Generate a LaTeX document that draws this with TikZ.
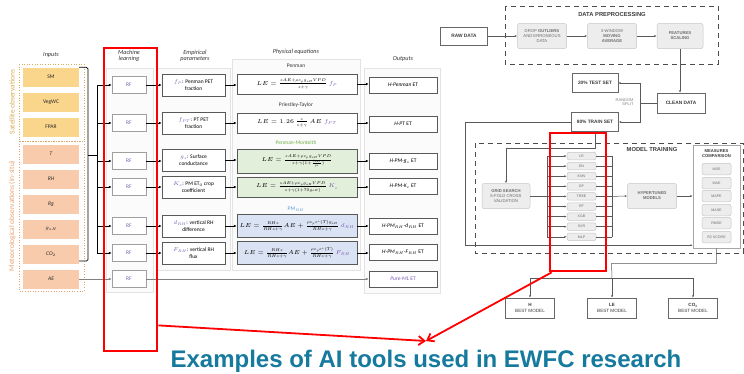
\RequirePackage{fix-cm}
\documentclass[tikz,border=0pt]{standalone}
\usepackage{amsmath}
\usepackage{fontspec}
\setmainfont{Carlito}
\newfontfamily\arialfont{Liberation Sans}
\usetikzlibrary{arrows.meta,calc,positioning}

\definecolor{satfill}{RGB}{250,214,140}
\definecolor{metfill}{RGB}{248,203,173}
\definecolor{sattext}{RGB}{214,172,84}
\definecolor{mettext}{RGB}{228,162,112}
\definecolor{mlpurple}{RGB}{122,92,182}
\definecolor{pmgreen}{RGB}{112,173,71}
\definecolor{pmfill}{RGB}{226,239,218}
\definecolor{rhblue}{RGB}{91,155,213}
\definecolor{rhfill}{RGB}{218,227,243}
\definecolor{boxline}{RGB}{89,89,89}
\definecolor{flowgray}{RGB}{60,60,60}
\definecolor{captionblue}{RGB}{22,122,158}

\begin{document}
\begin{tikzpicture}[x=1pt,y=-1pt,
    font=\fontsize{5.5}{6.5}\selectfont,
    title/.style={font=\fontsize{6.2}{7}\selectfont\itshape, align=center, text=black!80},
    inbox/.style={minimum width=56pt, minimum height=19pt, inner sep=0pt, text=black!85},
    satbox/.style={inbox, fill=satfill},
    metbox/.style={inbox, fill=metfill, font=\fontsize{5.5}{6.5}\selectfont\itshape},
    rfbox/.style={draw=gray!75, fill=white, minimum width=34pt, minimum height=17pt, inner sep=0pt, text=mlpurple},
    parbox/.style={draw=boxline, fill=white, minimum width=63pt, minimum height=22pt, align=center, inner sep=1pt},
    eqbox/.style={draw=boxline, minimum width=120pt, inner sep=1pt, font=\fontsize{5.8}{6.8}\selectfont},
    outbox/.style={draw=boxline, fill=white, minimum width=68pt, minimum height=16pt, inner sep=0pt},
    panel/.style={draw=gray!22, fill=gray!3},
    feed/.style={-{Latex[length=3pt,width=2.6pt]}, line width=0.8pt},
    grayfeed/.style={-{Latex[length=3pt,width=2.6pt]}, line width=0.7pt, gray},
    flow/.style={font=\arialfont\bfseries\fontsize{4.8}{5.4}\selectfont, text=flowgray, align=center},
    flowbox/.style={flow, draw=gray!80!black, line width=0.5pt, fill=white, inner sep=0pt},
    procbox/.style={flow, draw=gray!45, fill=gray!14, rounded corners=2pt, line width=0.5pt,
        minimum width=49pt, minimum height=25pt, inner sep=0pt, font=\arialfont\fontsize{4.2}{5}\selectfont, text=gray!85!black},
    modelbox/.style={procbox, minimum width=29pt, minimum height=7.5pt, font=\arialfont\fontsize{3.6}{4}\selectfont},
    metricbox/.style={procbox, minimum width=29pt, minimum height=11.5pt, font=\arialfont\fontsize{3.6}{4}\selectfont},
    flowline/.style={line width=0.5pt, gray!70!black},
    flowarrow/.style={flowline, -{Latex[length=2.4pt,width=2pt]}},
    prepframe/.style={draw=gray!60!black, line width=0.9pt, dash pattern=on 5pt off 4pt},
    redmark/.style={draw=red, line width=2.8pt, minimum width=#1, inner sep=0pt},
    redarrow/.style={red, line width=1.8pt, -{Straight Barb[length=6pt,width=9pt]}}
]
\useasboundingbox (0,0) rectangle (744,373);
\fill[white] (0,0) rectangle (744,373);

% Column panels
\draw[panel] (106,68) rectangle (153,292);
\draw[panel] (157,68) rectangle (230,270);
\draw[panel] (232,59) rectangle (360,270);
\draw[panel] (364,68) rectangle (440,293);

% Titles
\node[title] (tin) at (51,55) {Inputs};
\node[title] (tml) at (129,56) {Machine\\[-1pt]learning};
\node[title] (temp) at (195,56) {Empirical\\[-1pt]parameters};
\node[title] (tphy) at (296,52) {Physical equations};
\node[title] (tout) at (403,59) {Outputs};

% Inputs
\draw[sattext, dotted, line width=0.6pt] (19,64) rectangle (84,141);
\draw[mettext, dotted, line width=0.6pt] (19,141) rectangle (84,291);
\node[rotate=90, text=sattext, font=\fontsize{7.4}{8}\selectfont] (lsat) at (12,102) {Satellite observations};
\node[rotate=90, text=mettext, font=\fontsize{7.4}{8}\selectfont] (lmet) at (12,216) {Meteorological observations (in-situ)};
\node[satbox] (sm) at (51,77) {SM};
\node[satbox] (vegwc) at (51,102) {VegWC};
\node[satbox] (fpar) at (51,127) {FPAR};
\node[metbox] (tair) at (51,154) {T};
\node[metbox] (rh) at (51,179) {RH};
\node[metbox] (rg) at (51,204) {Rg};
\node[metbox] (gah) at (51,229) {$g_{aH}$};
\node[metbox] (co2) at (51,254) {CO$_2$};
\node[metbox] (ae) at (51,279) {AE};

% Bracket and trunk
\coordinate (brbot) at (88,261);
\coordinate (brmid) at (88,155);
\coordinate (trunktop) at (97,85);
\coordinate (trunkbot) at (97,253);
\draw[line width=0.7pt, rounded corners=1.5pt] (sm.north east) -| (brbot) -- (co2.east |- brbot);
\draw[line width=0.8pt] (brmid) -- (trunktop |- brmid);
\draw[line width=0.8pt] (trunktop) -- (trunkbot);

% Machine learning
\node[rfbox] (rf1) at (129,85) {RF};
\node[rfbox] (rf2) at (129,123) {RF};
\node[rfbox] (rf3) at (129,161) {RF};
\node[rfbox] (rf4) at (129,187) {RF};
\node[rfbox] (rf5) at (129,226) {RF};
\node[rfbox] (rf6) at (129,253) {RF};
\node[rfbox] (rf7) at (129,279) {RF};
\foreach \r in {rf1,rf2,rf3,rf4,rf5,rf6}
  \draw[feed] (\r -| trunktop) -- (\r.west);
\draw[grayfeed] (ae.east) -- (rf7.west);

% Empirical parameters
\node[parbox] (pfp) at (193.5,85) {{\color{mlpurple}$f_P$}: Penman PET\\fraction};
\node[parbox] (pfpt) at (193.5,123) {{\color{mlpurple}$f_{PT}$}: PT PET\\fraction};
\node[parbox] (pgs) at (193.5,160) {{\color{mlpurple}$g_s$}: Surface\\conductance};
\node[parbox] (pkc) at (193.5,187) {{\color{mlpurple}$K_c$}: PM ET$_0$ crop\\coefficient};
\node[parbox] (pdrh) at (193.5,226) {{\color{mlpurple}$d_{RH}$}: vertical RH\\difference};
\node[parbox] (pfrh) at (193.5,253) {{\color{mlpurple}$F_{RH}$}: vertical RH\\flux};

% Physical equations
\node[text=black!80] (lpen) at (296,66) {Penman};
\node[text=black!80] (lpt) at (296,105) {Priestley-Taylor};
\node[text=pmgreen] (lpm) at (296,143) {Penman-Monteith};
\node[text=rhblue] (lrh) at (296,209) {PM$_{RH}$};
\node[eqbox, fill=white, minimum height=20pt] (eqpen) at (297,84)
  {$LE=\frac{sAE+\rho c_p g_{aH} VPD}{s+\gamma}\,{\color{mlpurple}f_P}$};
\node[eqbox, fill=white, minimum height=20pt] (eqpt) at (297,123)
  {$LE=1.26\,\frac{s}{s+\gamma}\,AE\;{\color{mlpurple}f_{PT}}$};
\node[eqbox, fill=pmfill, minimum height=24pt] (eqgs) at (297,161)
  {$LE=\frac{sAE+\rho c_p g_{aH} VPD}{s+\gamma(1+\frac{g_{aH}}{g_s})}$};
\node[eqbox, fill=pmfill, minimum height=20pt] (eqkc) at (297,187)
  {$LE=\frac{sAE+\rho c_p g_{aH} VPD}{s+\gamma(1+70g_{aH})}\,{\color{mlpurple}K_c}$};
\node[eqbox, fill=rhfill, minimum height=23pt] (eqdrh) at (297,226)
  {$LE=\frac{RHs}{RHs+\gamma}AE+\frac{\rho c_p e^{*}(T)g_{aH}}{RHs+\gamma}\,{\color{mlpurple}d_{RH}}$};
\node[eqbox, fill=rhfill, minimum height=23pt] (eqfrh) at (297,253)
  {$LE=\frac{RHs}{RHs+\gamma}AE+\frac{\rho c_p e^{*}(T)}{RHs+\gamma}\,{\color{mlpurple}F_{RH}}$};

% Outputs
\node[outbox] (open) at (403,85) {\textit{H-Penman} ET};
\node[outbox] (opt) at (403,124) {\textit{H-PT} ET};
\node[outbox] (ogs) at (403,161) {\textit{H-PM-g$_s$} ET};
\node[outbox] (okc) at (403,186) {\textit{H-PM-K$_c$} ET};
\node[outbox] (odrh) at (403,226) {\textit{H-PM$_{RH}$-d$_{RH}$} ET};
\node[outbox] (ofrh) at (403,252) {\textit{H-PM$_{RH}$-F$_{RH}$} ET};
\node[outbox, text=mlpurple] (oml) at (403,279) {\textit{Pure-ML} ET};

% Left flow
\foreach \a/\b in {rf1/pfp,rf2/pfpt,rf3/pgs,rf4/pkc,rf5/pdrh,rf6/pfrh,
    pfp/eqpen,pfpt/eqpt,pgs/eqgs,pkc/eqkc,pdrh/eqdrh,pfrh/eqfrh}
  \draw[feed] (\a.east) -- (\b.west |- \a.east);
\foreach \a/\b in {eqpen/open,eqpt/opt,eqgs/ogs,eqkc/okc,eqdrh/odrh,eqfrh/ofrh}
  \draw[feed] (\a.east) -- (\b.west |- \a.east);
\draw[grayfeed] (rf7.east) -- (oml.west);

% Data preprocessing
\draw[prepframe] (505,6) rectangle (718,64);
\node[flow, font=\arialfont\bfseries\fontsize{5.8}{6.5}\selectfont] (tprep) at (612,14) {DATA PREPROCESSING};
\node[flowbox, minimum width=47pt, minimum height=18pt] (raw) at (464,36) {RAW DATA};
\node[procbox] (drop) at (542,36) {DROP \textbf{OUTLIERS}\\AND ERRONEOUS\\DATA};
\node[procbox] (mavg) at (612,36) {3-WINDOW\\\textbf{MOVING}\\\textbf{AVERAGE}};
\node[procbox, minimum width=46pt] (scale) at (680,36) {\textbf{FEATURES}\\\textbf{SCALING}};
\draw[flowarrow] (raw) -- (drop);
\draw[flowarrow] (drop) -- (mavg);
\draw[flowarrow] (mavg) -- (scale);

% Split
\node[flowbox, minimum width=48pt, minimum height=20pt] (clean) at (681,103) {CLEAN DATA};
\node[flowbox, minimum width=46pt, minimum height=19pt] (test) at (595,83) {20\% TEST SET};
\node[flowbox, minimum width=47pt, minimum height=19pt] (train) at (595,122) {80\% TRAIN SET};
\draw[flowarrow] (scale.south) -- (scale.south |- clean.north);
\coordinate (split) at (640,103);
\draw[flowline] (clean.west) -- (split);
\draw[flowarrow] (split) |- (test.east);
\draw[flowarrow] (split) |- (train.east);
\node[flow, font=\arialfont\fontsize{4}{4.6}\selectfont, text=gray, anchor=east, align=right] (lsplit) at (637,102) {RANDOM\\SPLIT};

% Model training
\draw[prepframe] (475,143) rectangle (743,253);
\node[flow, font=\arialfont\bfseries\fontsize{5.8}{6.5}\selectfont] (ttrain) at (652,149) {MODEL TRAINING};
\node[procbox, minimum width=48pt] (grid) at (506,196) {\textbf{GRID SEARCH}\\5-FOLD CROSS\\VALIDATION};
\coordinate (lbus) at (547,156);
\coordinate (rbus) at (612,156);
\coordinate (gridturn) at (595,148);
\foreach \m [count=\i from 0] in {LR,EN,KNN,GP,TREE,RF,XGB,SVR,MLP} {
  \node[modelbox] (m\i) at (581.5,156+10.1*\i) {\m};
  \draw[flowarrow] (m\i -| lbus) -- (m\i.west);
  \draw[flowline] (m\i.east) -- (m\i -| rbus);
}
\draw[flowline] (m0 -| lbus) -- (m8 -| lbus);
\draw[flowline] (m0 -| rbus) -- (m8 -| rbus);
\draw[flowline] (grid.east) -- (grid.east -| lbus);
\draw[flowarrow] (train.south) -- (gridturn) -| (grid.north);
\node[procbox, minimum width=49pt] (hyper) at (652,196) {\textbf{HYPERTUNED}\\\textbf{MODELS}};
\draw[flowarrow] (m4 -| rbus) -- (hyper.west);

% Measures comparison
\node[flowbox, draw=gray!70, minimum width=47pt, minimum height=103pt] (measures) at (716.5,196.5) {};
\node[flow, font=\arialfont\bfseries\fontsize{4.2}{4.8}\selectfont] (tmeas) at (716.5,153.5) {MEASURES\\COMPARISON};
\foreach \q/\yy [count=\i] in {MSE/169,MAE/183,MAPE/196,MASE/210,RMSE/223,R2 SCORE/237}
  \node[metricbox] (q\i) at (716.5,\yy) {\q};
\draw[flowarrow] (hyper.east) -- (hyper.east -| measures.west);
\coordinate (trainturn) at (465,122);
\draw[flowarrow] (train.west) -- (trainturn) |- ($(measures.south west)+(0,-3)$);

% Best models
\node[flowbox, minimum width=49pt, minimum height=20pt, font=\arialfont\fontsize{4.6}{5.2}\selectfont] (hbest) at (530,308) {\textbf{H}\\BEST MODEL};
\node[flowbox, minimum width=49pt, minimum height=20pt, font=\arialfont\fontsize{4.6}{5.2}\selectfont] (lebest) at (612,308) {\textbf{LE}\\BEST MODEL};
\node[flowbox, minimum width=49pt, minimum height=20pt, font=\arialfont\fontsize{4.6}{5.2}\selectfont] (cobest) at (693,308) {\textbf{CO$_\mathbf{2}$}\\BEST MODEL};
\coordinate (bestbus) at (612,278);
\draw[flowline] (measures.south) |- ++(-105,15) -- (bestbus);
\draw[flowline] (hbest.north |- bestbus) -- (cobest.north |- bestbus);
\foreach \b in {hbest,lebest,cobest}
  \draw[flowarrow] (\b.north |- bestbus) -- (\b.north);

% Red highlights
\node[redmark=53pt, minimum height=303pt] (redml) at (130.5,199.5) {};
\node[redmark=56pt, minimum height=138pt] (redmodels) at (578,202) {};
\coordinate (aim) at (426,341);
\draw[redarrow] ($(redml.south east)+(0,-27)$) -- (aim);
\draw[redarrow] ($(redmodels.south west)+(3,0)$) -- (aim);

% Caption
\node[anchor=base, text=captionblue, font=\arialfont\bfseries\fontsize{24}{26}\selectfont] (caption) at (426,367) {Examples of AI tools used in EWFC research};

\end{tikzpicture}
\end{document}
